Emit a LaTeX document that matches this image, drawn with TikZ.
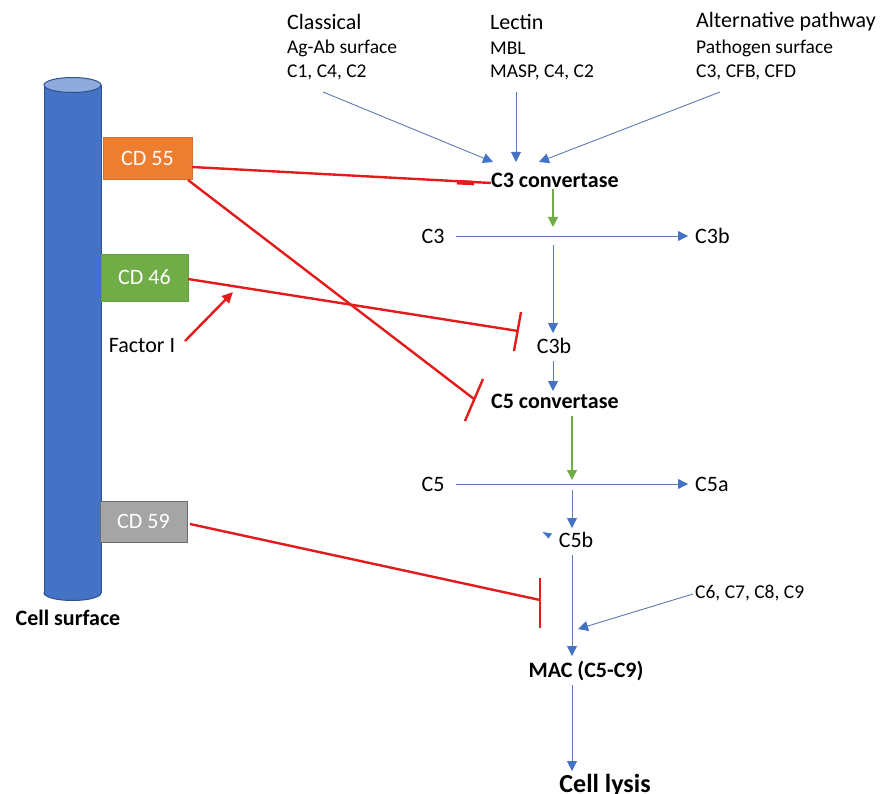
\documentclass[tikz,border=0pt]{standalone}
\usepackage{fontspec}
\setmainfont{Carlito}
\usetikzlibrary{arrows.meta}
\definecolor{ablue}{HTML}{4472C4}
\definecolor{lblue}{HTML}{5B7BB5}
\definecolor{agreen}{HTML}{70AD47}
\definecolor{ared}{HTML}{E31B1B}
\definecolor{aorange}{HTML}{ED7D31}
\definecolor{agray}{HTML}{A5A5A5}
\definecolor{cylborder}{HTML}{2F528F}
\definecolor{cyltop}{HTML}{8FAADC}
\begin{document}
\begin{tikzpicture}[x=1pt,y=-1pt,
  head/.style={font=\fontsize{22}{26}\selectfont, inner sep=0pt, anchor=west},
  sub/.style={font=\fontsize{19.5}{23}\selectfont, inner sep=0pt, anchor=west},
  lbl/.style={font=\fontsize{22}{26}\selectfont, inner sep=0pt},
  bld/.style={font=\fontsize{22}{26}\selectfont\bfseries, inner sep=0pt},
  cdbox/.style={font=\fontsize{22}{26}\selectfont, text=white, inner sep=0pt},
  flow/.style={draw=lblue, line width=0.9pt, -{Triangle[length=10pt,width=10pt,color=ablue]}},
  gflow/.style={draw=agreen, line width=1.3pt, -{Triangle[length=10pt,width=10pt]}},
  inhib/.style={draw=ared, line width=2.4pt},
  redarrow/.style={draw=ared, line width=2.4pt, -{Triangle[length=11pt,width=10pt]}}
]
\useasboundingbox (0,0) rectangle (888,794);
\fill[white] (0,0) rectangle (888,794);

% cylinder (cell surface)
\filldraw[fill=ablue, draw=cylborder, line width=1pt] (72.5,593) ellipse [x radius=28.5, y radius=7.5];
\fill[ablue] (44,85) rectangle (101,593);
\draw[cylborder, line width=1pt] (44,85) -- (44,593);
\draw[cylborder, line width=1pt] (101,85) -- (101,593);
\filldraw[fill=cyltop, draw=cylborder, line width=1pt] (72.5,85) ellipse [x radius=28.5, y radius=7.5];
\node[bld] (cellsurf) at (68,618) {Cell surface};

% CD boxes
\node[cdbox, fill=aorange, draw=aorange!90!black, minimum width=89pt, minimum height=42pt] (cd55) at (147.5,158) {CD 55};
\node[cdbox, fill=agreen, draw=agreen!90!black, minimum width=87pt, minimum height=47pt] (cd46) at (144.5,277.5) {CD 46};
\node[cdbox, fill=agray, draw=gray!85!black, line width=1pt, minimum width=87pt, minimum height=41pt] (cd59) at (143.5,521.5) {CD 59};
\node[lbl] (factorI) at (142,346) {Factor I};

% pathway texts
\node[head] (classical) at (287,22) {Classical};
\node[sub] (agab) at (287,48) {Ag-Ab surface};
\node[sub] (cl2) at (287,72) {C1, C4, C2};
\node[head] (lectin) at (490,22) {Lectin};
\node[sub] (mbl) at (490,48) {MBL};
\node[sub] (masp) at (490,72) {MASP, C4, C2};
\node[head] (alt) at (696,22) {Alternative pathway};
\node[sub] (pathsurf) at (696,48) {Pathogen surface};
\node[sub] (c3cfb) at (696,72) {C3, CFB, CFD};

% cascade nodes
\node[bld, anchor=west] (c3conv) at (491,180) {C3 convertase};
\node[lbl] (c3) at (433,236) {C3};
\node[lbl, anchor=west] (c3bR) at (695,236) {C3b};
\node[lbl] (c3b) at (554,346) {C3b};
\node[bld, anchor=west] (c5conv) at (491,401) {C5 convertase};
\node[lbl] (c5) at (433,484) {C5};
\node[lbl, anchor=west] (c5a) at (695,484) {C5a};
\node[lbl] (c5b) at (576,540) {C5b};
\node[sub] (c6) at (695,593) {C6, C7, C8, C9};
\node[bld] (mac) at (586,671) {MAC (C5-C9)};
\node[font=\fontsize{26}{30}\selectfont\bfseries, inner sep=0pt] (lysis) at (605,785) {Cell lysis};

% coordinates for connectors
\coordinate (a1s) at (323,92);  \coordinate (a1e) at (493,162);
\coordinate (a2s) at (516,92);  \coordinate (a2e) at (516,162);
\coordinate (a3s) at (720,92);  \coordinate (a3e) at (539,162);
\coordinate (g1s) at (553,189); \coordinate (g1e) at (553,227);
\coordinate (c3ls) at (456,236); \coordinate (c3le) at (688,236);
\coordinate (b1s) at (553,245); \coordinate (b1e) at (553,333);
\coordinate (b2s) at (553,361); \coordinate (b2e) at (553,391);
\coordinate (g2s) at (572,416); \coordinate (g2e) at (572,480);
\coordinate (c5ls) at (456,484); \coordinate (c5le) at (688,484);
\coordinate (b3s) at (572,490); \coordinate (b3e) at (572,528);
\coordinate (b4s) at (572,555); \coordinate (b4e) at (572,656);
\coordinate (c6s) at (693,594); \coordinate (c6e) at (578,629);
\coordinate (b5s) at (572,685); \coordinate (b5e) at (572,771);

% blue flows
\draw[flow] (a1s) -- (a1e);
\draw[flow] (a2s) -- (a2e);
\draw[flow] (a3s) -- (a3e);
\draw[flow] (c3ls) -- (c3le);
\draw[flow] (b1s) -- (b1e);
\draw[flow] (b2s) -- (b2e);
\draw[flow] (c5ls) -- (c5le);
\draw[flow] (b3s) -- (b3e);
\draw[flow] (b4s) -- (b4e);
\draw[flow] (c6s) -- (c6e);
\draw[flow] (b5s) -- (b5e);
% green flows
\draw[gflow] (g1s) -- (g1e);
\draw[gflow] (g2s) -- (g2e);
% stray arrowhead near C5b
\fill[ablue] (542.5,532) -- (552,533.5) -- (548.5,538.5) -- cycle;

% red inhibitions
\coordinate (r1s) at (192,167); \coordinate (r1e) at (491,183);
\coordinate (r1b1) at (457,182.2); \coordinate (r1b2) at (474,183.1);
\draw[inhib] (r1s) -- (r1e);
\draw[ared, line width=4.5pt] (r1b1) -- (r1b2);

\coordinate (r2s) at (188,180); \coordinate (r2e) at (474,399);
\coordinate (r2b1) at (483,379); \coordinate (r2b2) at (465,421);
\draw[inhib] (r2s) -- (r2e);
\draw[inhib] (r2b1) -- (r2b2);

\coordinate (r3s) at (188,279); \coordinate (r3e) at (518,331);
\coordinate (r3b1) at (521,312); \coordinate (r3b2) at (514,351);
\draw[inhib] (r3s) -- (r3e);
\draw[inhib] (r3b1) -- (r3b2);

\coordinate (r4s) at (190,524); \coordinate (r4e) at (540,600);
\coordinate (r4b1) at (540,578); \coordinate (r4b2) at (540,628);
\draw[inhib] (r4s) -- (r4e);
\draw[inhib] (r4b1) -- (r4b2);

\coordinate (fis) at (185,341); \coordinate (fie) at (233,292);
\draw[redarrow] (fis) -- (fie);
\end{tikzpicture}
\end{document}
